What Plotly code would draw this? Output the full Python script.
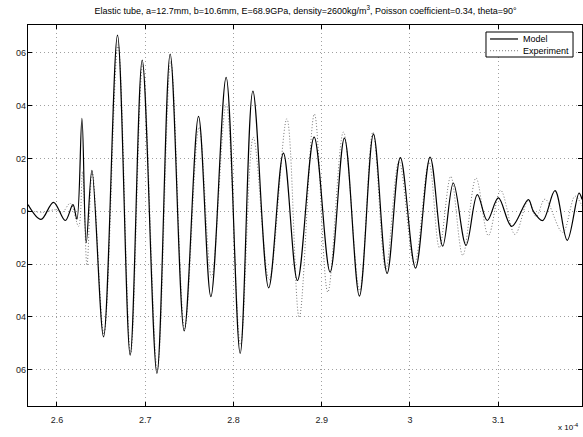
import plotly.graph_objects as go

# Model (solid) extrema, time in units of 1e-4 s
model_t = [2.5672, 2.5819, 2.5961, 2.6094, 2.6181, 2.6226, 2.6283, 2.6332, 2.6396,
           2.6528, 2.6686, 2.6830, 2.6966, 2.7133, 2.7283, 2.7442, 2.7604, 2.7744,
           2.7917, 2.8076, 2.8220, 2.8399, 2.8566, 2.8725, 2.8914, 2.9095, 2.9257,
           2.9427, 2.9586, 2.9741, 2.9891, 3.0063, 3.0228, 3.0371, 3.0491, 3.0635,
           3.0763, 3.0876, 3.1001, 3.1153, 3.1341, 3.1398, 3.1504, 3.1643, 3.1782,
           3.1915, 3.1949]
model_v = [0.0025, -0.0031, 0.0034, -0.0035, 0.0025, -0.0030, 0.0352, -0.0119, 0.0155,
           -0.0475, 0.0667, -0.0545, 0.0572, -0.0614, 0.0595, -0.0453, 0.0359, -0.0323,
           0.0507, -0.0538, 0.0455, -0.0290, 0.0220, -0.0262, 0.0281, -0.0230, 0.0277,
           -0.0321, 0.0292, -0.0235, 0.0203, -0.0215, 0.0205, -0.0132, 0.0107, -0.0129,
           0.0063, -0.0035, 0.0051, -0.0057, 0.0044, 0.0000, -0.0035, 0.0078, -0.0110,
           0.0069, 0.0045]

# Experiment (dotted) extrema
exp_t = [2.5672, 2.5850, 2.5980, 2.6060, 2.6151, 2.6245, 2.6290, 2.6340, 2.6400,
         2.6532, 2.6692, 2.6835, 2.6972, 2.7138, 2.7290, 2.7447, 2.7610, 2.7752,
         2.7918, 2.8080, 2.8225, 2.8405, 2.8605, 2.8745, 2.8917, 2.9069, 2.9246,
         2.9430, 2.9580, 2.9725, 2.9875, 3.0050, 3.0215, 3.0333, 3.0462, 3.0598,
         3.0748, 3.0888, 3.1028, 3.1190, 3.1340, 3.1430, 3.1530, 3.1730, 3.1870,
         3.1949]
exp_v = [0.0003, -0.0004, 0.0006, -0.0004, 0.0030, -0.0057, 0.0150, -0.0205, 0.0150,
         -0.0465, 0.0630, -0.0540, 0.0555, -0.0600, 0.0568, -0.0445, 0.0318, -0.0250,
         0.0405, -0.0505, 0.0280, -0.0260, 0.0350, -0.0402, 0.0368, -0.0306, 0.0300,
         -0.0300, 0.0300, -0.0220, 0.0190, -0.0200, 0.0185, -0.0138, 0.0132, -0.0167,
         0.0126, -0.0092, 0.0079, -0.0088, 0.0040, -0.0020, 0.0046, -0.0080, 0.0057,
         0.0020]

x_ticks = [2.6, 2.7, 2.8, 2.9, 3.0, 3.1]
x_ticklabels = ["2.6", "2.7", "2.8", "2.9", "3", "3.1"]
y_ticks = [0.06, 0.04, 0.02, 0.0, -0.02, -0.04, -0.06]
y_ticklabels = ["06", "04", "02", "0", "02", "04", "06"]
legend_names = ["Model", "Experiment"]

title = ("Elastic tube, a=12.7mm, b=10.6mm, E=68.9GPa, density=2600kg/m<sup>3</sup>, "
         "Poisson coefficient=0.34, theta=90°")

EXP_LINE = dict(color="#777777", width=1, dash="1px,2px")
MODEL_LINE = dict(color="black", width=1.2)

fig = go.Figure()
fig.add_trace(go.Scatter(x=exp_t, y=exp_v, mode="lines", name=legend_names[1],
                         line=dict(**EXP_LINE, shape="spline", smoothing=1.0)))
fig.add_trace(go.Scatter(x=model_t, y=model_v, mode="lines", name=legend_names[0],
                         line=dict(**MODEL_LINE, shape="spline", smoothing=1.0)))

axis_common = dict(showline=True, linecolor="black", linewidth=1.3, mirror="ticks",
                   ticks="inside", ticklen=4, tickcolor="black", automargin=False,
                   showgrid=True, gridcolor="#a0a0a0", griddash="1px,3px", gridwidth=1,
                   zeroline=False, tickfont=dict(family="Liberation Sans", size=9, color="#222"))

fig.update_layout(
    width=583, height=437,
    margin=dict(l=28, r=1, t=25, b=31),
    paper_bgcolor="white", plot_bgcolor="white",
    font=dict(family="Liberation Sans", size=9, color="black"),
    title=dict(text=title, x=0.524, xanchor="center", y=0.975, yanchor="middle",
               font=dict(family="Liberation Sans", size=9, color="black")),
    xaxis=dict(range=[2.5672, 3.1949], tickvals=x_ticks, ticktext=x_ticklabels,
               ticklabelstandoff=5, **axis_common),
    yaxis=dict(range=[-0.0737, 0.0705], tickvals=y_ticks, ticktext=y_ticklabels,
               ticklabelstandoff=-1, **axis_common),
    showlegend=False,
)

# compact MATLAB-style legend box (paper coordinates)
fig.add_shape(type="rect", xref="paper", yref="paper", x0=0.8267, x1=0.9838,
              y0=0.916, y1=0.9816, line=dict(color="black", width=1), fillcolor="white",
              layer="above")
fig.add_shape(type="line", xref="paper", yref="paper", x0=0.834, x1=0.8845,
              y0=0.9633, y1=0.9633, line=MODEL_LINE, layer="above")
fig.add_shape(type="line", xref="paper", yref="paper", x0=0.834, x1=0.8845,
              y0=0.9325, y1=0.9325, line=EXP_LINE, layer="above")
for name, yy in zip(legend_names, [0.9633, 0.9325]):
    fig.add_annotation(text=name, xref="paper", yref="paper", x=0.8895, y=yy,
                       xanchor="left", yanchor="middle", showarrow=False,
                       font=dict(family="Liberation Sans", size=9, color="black"))

fig.add_annotation(text="x 10<sup>-4</sup>", xref="paper", yref="paper",
                   x=0.997, y=-0.055, xanchor="right", yanchor="middle",
                   showarrow=False, font=dict(family="Liberation Sans", size=8))

fig.write_html("out.html", config={"displayModeBar": False},
               post_script="document.body.style.margin='0';document.body.style.overflow='hidden';")
